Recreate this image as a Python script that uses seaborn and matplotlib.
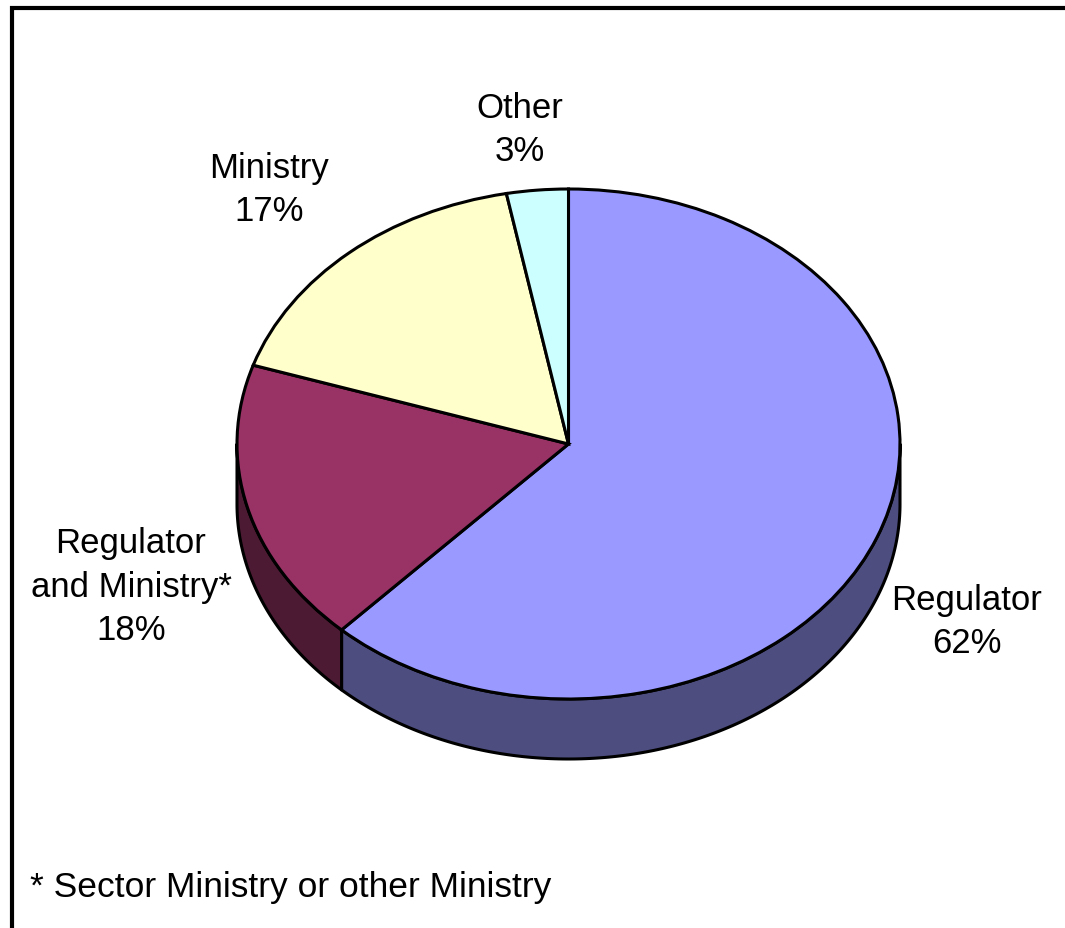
import numpy as np
import matplotlib
matplotlib.use("Agg")
import matplotlib.pyplot as plt
import seaborn as sns
from matplotlib.patches import Polygon, Rectangle

# ---- data ----
categories = ["Regulator", "Regulator\nand Ministry*", "Ministry", "Other"]
values = [62, 18, 17, 3]
top_colors = ["#9999FF", "#993366", "#FFFFCC", "#CCFFFF"]
side_colors = ["#4D4D80", "#4D1A33", "#808066", "#668080"]
footnote = "* Sector Ministry or other Ministry"

sns.set_theme(style="white")
plt.rcParams['font.family'] = ['Liberation Sans', 'DejaVu Sans']

W, H = 1065, 929
fig = plt.figure(figsize=(W / 100, H / 100), dpi=100)
fig.patch.set_facecolor("white")
ax = fig.add_axes([0, 0, 1, 1])

# geometry (pixels) of the tilted pie
cx, cy = 568.5, 445
rx, ry = 331.5, 255
depth = 60 / ry

# ---- side walls (front half only) ----
vals = np.asarray(values, dtype=float)
cum = np.concatenate([[0], np.cumsum(vals) / vals.sum()])
for i in range(len(vals)):
    t_start = 90 - 360 * cum[i]
    t_end = 90 - 360 * cum[i + 1]
    lo, hi = t_end, t_start
    for shift in (-360, 0, 360):
        a, b = max(lo + shift, -180), min(hi + shift, 0)
        if b > a:
            ang = np.radians(np.linspace(a, b, 200))
            top = np.column_stack([np.cos(ang), np.sin(ang)])
            bot = np.column_stack([np.cos(ang[::-1]), np.sin(ang[::-1]) - depth])
            ax.add_patch(Polygon(np.vstack([top, bot]), closed=True,
                                 facecolor=side_colors[i], edgecolor="black",
                                 linewidth=2.2, zorder=1, joinstyle="round"))

# ---- top face ----
ax.pie(values, colors=top_colors, startangle=90, counterclock=False,
       radius=1, center=(0, 0), frame=True,
       wedgeprops=dict(edgecolor="black", linewidth=2.2, zorder=2))

ax.set_aspect("auto")
ax.set_xlim(-cx / rx, (W - cx) / rx)
ax.set_ylim(-(H - cy) / ry, cy / ry)
ax.axis("off")

# ---- labels ----
pcts = [f"{v}%" for v in values]
label_px = [(967, 622), (131, 587), (269, 190), (520, 130)]
for cat, pct, (px, py) in zip(categories, pcts, label_px):
    ax.text((px - cx) / rx, (cy - py) / ry, f"{cat}\n{pct}", ha="center",
            va="center", fontsize=25, color="black", linespacing=1.42, zorder=5)

ax.text((30 - cx) / rx, (cy - 887) / ry, footnote, ha="left", va="center",
        fontsize=25.5, color="black", zorder=5)

# ---- chart frame ----
fig.add_artist(Rectangle((11.5 / W, -0.05), 1.2, 1 - 8.5 / H + 0.05,
                         transform=fig.transFigure, fill=False,
                         edgecolor="black", linewidth=3, clip_on=False))

fig.savefig("out.png", dpi=100, facecolor="white")
